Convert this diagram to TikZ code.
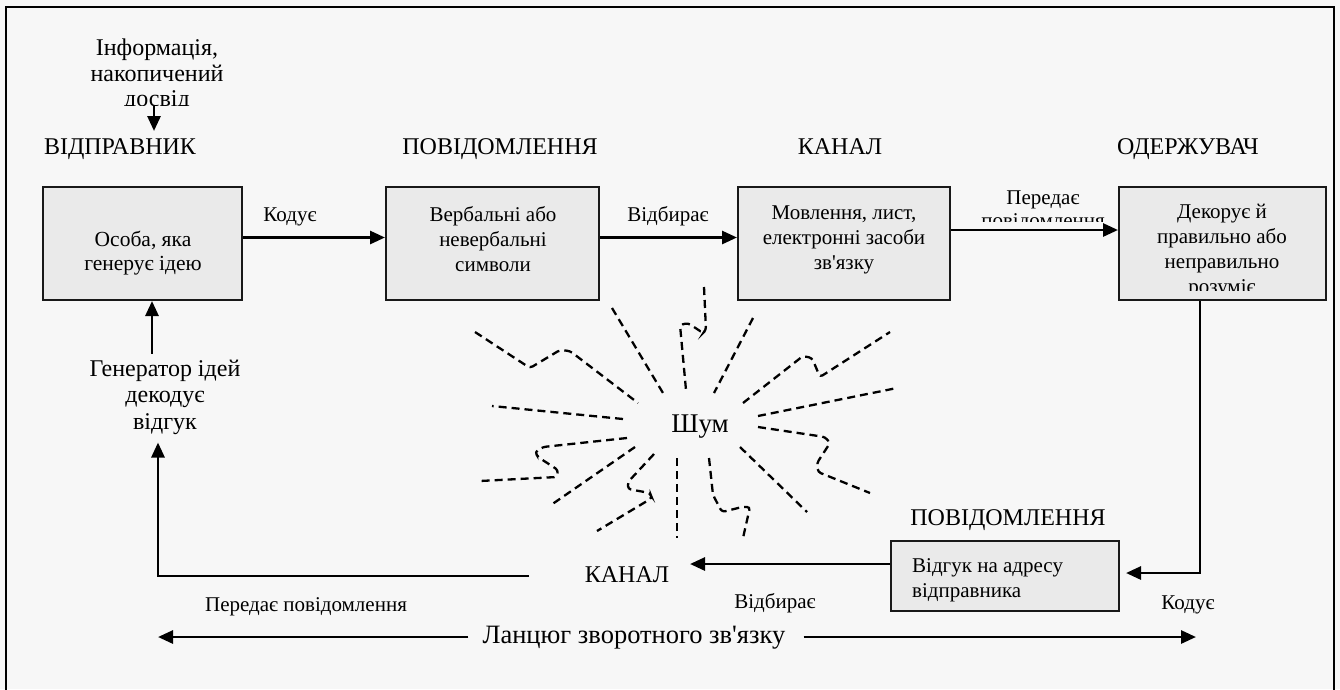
\documentclass[tikz,border=0pt]{standalone}
\usepackage{fontspec}
\setmainfont{Liberation Serif}[Ligatures=TeXOff]
\usetikzlibrary{arrows.meta}
\definecolor{bggray}{HTML}{F7F7F7}
\definecolor{boxgray}{HTML}{EAEAEA}

\begin{document}
\begin{tikzpicture}[x=1pt, y=-1pt, >={Triangle[length=15pt,width=13pt]},
  box/.style={draw=black!90, line width=2pt, fill=boxgray},
  title/.style={font=\fontsize{24}{26}\selectfont, inner sep=0pt, anchor=base},
  txt/.style={font=\fontsize{21}{25}\selectfont, align=center, inner sep=0pt},
  lbl/.style={font=\fontsize{21}{25}\selectfont, inner sep=0pt, anchor=base},
  conn/.style={line width=2.8pt},
  noise/.style={line width=2.3pt, dash pattern=on 8pt off 5pt, rounded corners=3pt}]
\useasboundingbox[fill=bggray] (0,0) rectangle (1340,689);
\draw[line width=2pt] (6,695) -- (6,7) -- (1334,7) -- (1334,695);

% upper chain
\begin{scope}
\clip (0,0) rectangle (330,105);
\node[txt, font=\fontsize{24}{25.5}\selectfont] (info) at (157,75) {Інформація,\\накопичений\\досвід};
\end{scope}
\node[title] (sendT) at (120,154) {ВІДПРАВНИК};
\node[title] (msgT) at (500,154) {ПОВІДОМЛЕННЯ};
\node[title] (chanT) at (840,154) {КАНАЛ};
\node[title] (recvT) at (1188,154) {ОДЕРЖУВАЧ};
\draw[conn,->] (154,106) -- (154,131);

\node[box, minimum width=199pt, minimum height=113pt] (sender) at (142.5,243.5) {};
\node[box, minimum width=213pt, minimum height=113pt] (msg) at (492.5,243.5) {};
\node[box, minimum width=212pt, minimum height=113pt] (chan) at (844,243.5) {};
\node[box, minimum width=207pt, minimum height=113pt] (recv) at (1222.5,243.5) {};

\node[txt, font=\fontsize{21.5}{24}\selectfont] (senderT) at (143,253) {Особа, яка\\генерує ідею};
\node[txt] (msgTx) at (493,239) {Вербальні або\\невербальні\\символи};
\node[txt] (chanTx) at (844,240) {Мовлення, лист,\\електронні засоби\\зв'язку};
\begin{scope}
\clip (1120,188) rectangle (1325,290);
\node[txt] (recvTx) at (1222,251) {Декорує й\\правильно або\\неправильно\\розуміє};
\end{scope}

\draw[conn,->] ([yshift=6pt]sender.east) -- ([yshift=6pt]msg.west);
\node[lbl] (enc1) at (290,221) {Кодує};
\draw[conn,->] ([yshift=6pt]msg.east) -- ([yshift=6pt]chan.west);
\node[lbl] (sel1) at (668,221) {Відбирає};
\begin{scope}
\clip (950,170) rectangle (1118,221);
\node[txt, font=\fontsize{21}{23}\selectfont] (send1) at (1043,211) {Передає\\повідомлення};
\end{scope}
\draw[conn,->] ([yshift=13.5pt]chan.east) -- ([yshift=13.5pt]recv.west);

% feedback chain
\node[title] (respT) at (1008,525) {ПОВІДОМЛЕННЯ};
\node[box, minimum width=228pt, minimum height=70pt] (resp) at (1005,576) {};
\node[txt, align=left, anchor=west] (respTx) at (912,580) {Відгук на адресу\\відправника};
\draw[conn,->] (recv.south -| 1200,0) |- ([xshift=6pt,yshift=3pt]resp.east);
\node[lbl] (enc2) at (1188,609) {Кодує};
\node[title] (chan2) at (627,582) {КАНАЛ};
\coordinate (chanIn) at (690,564);
\draw[conn,->] (resp.west |- chanIn) -- (chanIn);
\node[lbl] (sel2) at (775,608) {Відбирає};
\node[txt, font=\fontsize{24}{26.5}\selectfont] (gen) at (165,397) {Генератор ідей\\декодує\\відгук};
\coordinate (fb) at (529,576);
\draw[conn,->] (fb) -| ([xshift=-7pt,yshift=-8pt]gen.south);
\draw[conn,->] ([xshift=-13pt,yshift=6pt]gen.north) -- ([xshift=-13pt]gen.north |- sender.south);
\node[lbl] (send2) at (306,611) {Передає повідомлення};

\node[font=\fontsize{26.5}{28}\selectfont, inner sep=0pt] (chain) at (634,638) {Ланцюг зворотного зв'язку};
\coordinate (chainL) at (158,637);
\coordinate (chainR) at (1196,637);
\draw[conn,->] ([xshift=-14pt]chain.west |- chainL) -- (chainL);
\draw[conn,->] ([xshift=18pt]chain.east |- chainR) -- (chainR);

% noise
\node[font=\fontsize{27}{30}\selectfont, inner sep=0pt] (noise) at (700,427) {Шум};
\draw[noise] (475,332) -- (530,368) -- (540,362) -- (560,350) -- (570,351) -- (638,403);
\draw[noise] (612,308) -- (663,393);
\draw[noise] (704,287) -- (706,330) -- (703,333) -- (688,323) -- (680,325) -- (686,390);
\draw[noise] (753,318) -- (714,393);
\draw[noise] (743,403) -- (803,356) -- (812,358) -- (820,377) -- (890,332);
\draw[noise] (758,416) -- (897,388);
\draw[noise] (758,427) -- (825,437) -- (830,443) -- (817,463) -- (818,472) -- (870,493);
\draw[noise] (740,447) -- (807,512);
\draw[noise] (709,458) -- (713,495) -- (722,512) -- (742,507) -- (750,507) -- (743,538);
\draw[noise] (677,458) -- (677,538);
\draw[noise] (654,454) -- (628,482) -- (628,489) -- (650,493) -- (652,498) -- (597,531);
\draw[noise] (635,447) -- (551,505);
\draw[noise] (627,438) -- (543,447) -- (535,452) -- (538,457) -- (558,470) -- (557,477) -- (480,481);
\draw[noise] (623,419) -- (492,406);
\end{tikzpicture}
\end{document}
